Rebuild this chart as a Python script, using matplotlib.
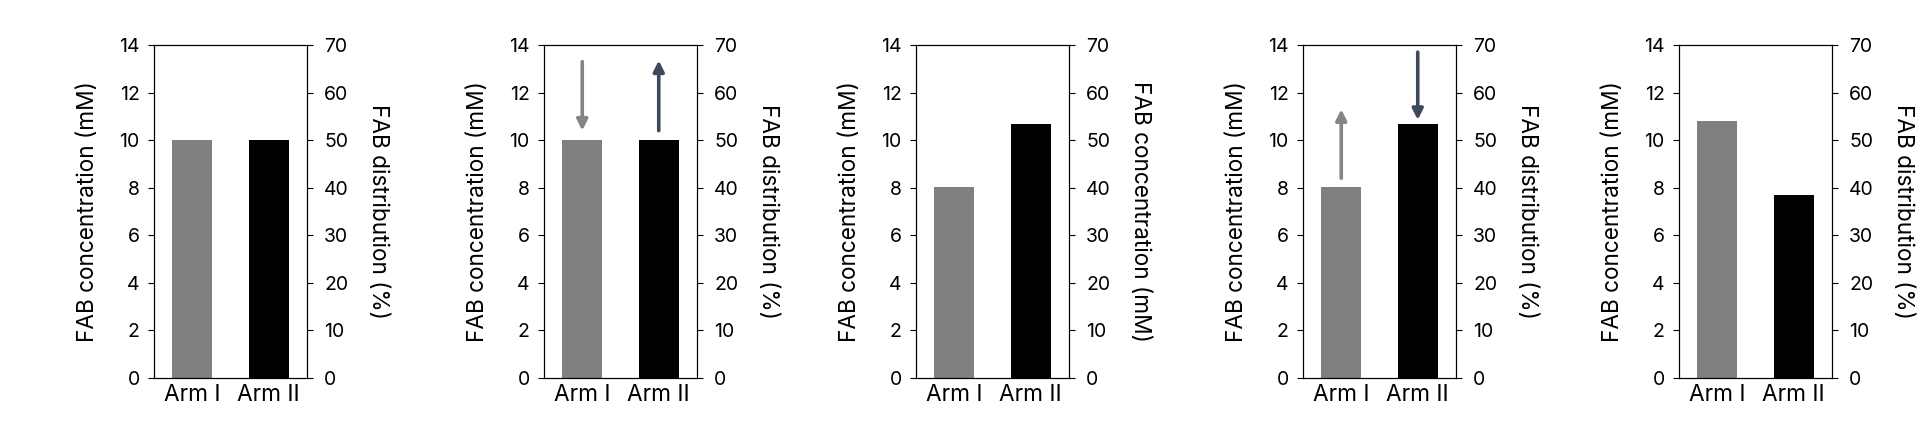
import matplotlib.pyplot as plt

plt.rcParams['font.family'] = ['Inter', 'DejaVu Sans']

categories = ['Arm I', 'Arm II']
arm1_conc = [10.0, 10.0, 8.04, 8.04, 10.8]
arm2_conc = [10.0, 10.0, 10.66, 10.66, 7.71]
left_label = 'FAB concentration (mM)'
right_labels = ['FAB distribution (%)', 'FAB distribution (%)', 'FAB concentration (mM)',
                'FAB distribution (%)', 'FAB distribution (%)']
# arrows: panel index, bar index, tail y, head y
arrows = [(1, 0, 13.3, 10.4), (1, 1, 10.4, 13.35),
          (3, 0, 8.4, 11.3), (3, 1, 13.7, 10.85)]

bar_colors = ['#808080', '#000000']
arrow_colors = ['#858585', '#3d4a5e']

W, H = 1920, 423
panel_left = [154, 544, 916, 1303, 1679]
ax_w, ax_top, ax_bot = 153, 45, 378

fig = plt.figure(figsize=(W / 100, H / 100), dpi=100)

for i in range(5):
    ax = fig.add_axes([panel_left[i] / W, (H - ax_bot) / H, ax_w / W, (ax_bot - ax_top) / H])
    ax.bar([0, 1], [arm1_conc[i], arm2_conc[i]], width=0.52, color=bar_colors)
    ax.set_xlim(-0.5, 1.5)
    ax.set_ylim(0, 14)
    ax.set_yticks(range(0, 15, 2))
    ax.set_xticks([0, 1])
    ax.set_xticklabels(categories)
    ax.tick_params(axis='x', length=0, pad=4, labelsize=16.3)
    ax.tick_params(axis='y', length=4.3, width=0.8, labelsize=14, pad=6)
    ax.set_ylabel(left_label, fontsize=16.3, va='center')
    ax.yaxis.set_label_coords(-0.43, 0.5)
    for s in ax.spines.values():
        s.set_linewidth(0.8)

    ax2 = ax.twinx()
    ax2.set_ylim(0, 70)
    ax2.set_yticks(range(0, 71, 10))
    ax2.tick_params(axis='y', length=4.3, width=0.8, labelsize=14, pad=8)
    ax2.set_ylabel(right_labels[i], fontsize=16.3, rotation=270, va='center')
    ax2.yaxis.set_label_coords(1.464, 0.5)
    for s in ax2.spines.values():
        s.set_linewidth(0.8)

    for p, b, y0, y1 in arrows:
        if p == i:
            ax.annotate('', xy=(b, y1), xytext=(b, y0),
                        arrowprops=dict(arrowstyle='-|>', color=arrow_colors[b], lw=2.6,
                                        mutation_scale=16, shrinkA=0, shrinkB=0))

fig.savefig('out.png', dpi=100)
